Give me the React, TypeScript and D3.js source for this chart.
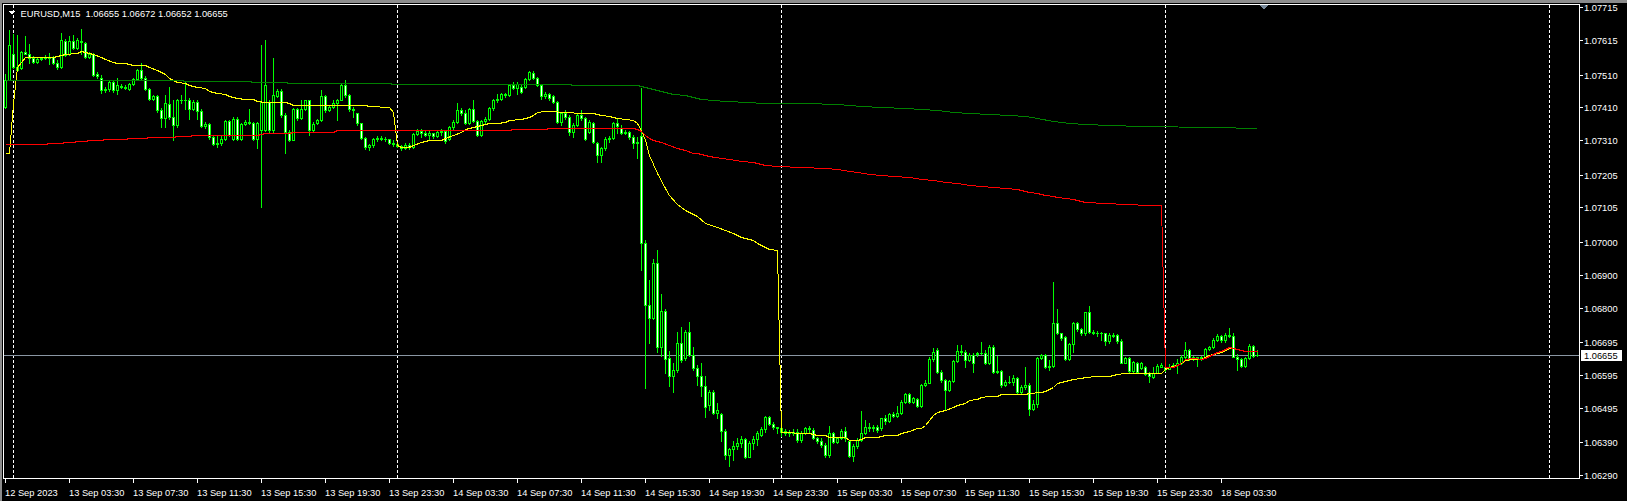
import React from "react";
import * as d3 from "d3";

const W = 1627;
const H = 501;

// ---- OHLC data (EURUSD M15), bar 0 = 12 Sep 23:30 ----
const opens = [
1.07412,1.07493,1.07574,1.07534,1.07529,1.07580,1.07574,1.07559,1.07549,1.07557,
1.07559,1.07559,1.07562,1.07546,1.07532,1.07612,1.07574,1.07612,1.07590,1.07612,
1.07607,1.07564,1.07574,1.07511,1.07501,1.07463,1.07466,1.07486,1.07463,1.07476,
1.07473,1.07466,1.07481,1.07496,1.07524,1.07498,1.07466,1.07437,1.07444,1.07402,
1.07379,1.07420,1.07381,1.07356,1.07432,1.07434,1.07432,1.07406,1.07427,1.07400,
1.07353,1.07358,1.07321,1.07298,1.07300,1.07315,1.07368,1.07315,1.07376,1.07315,
1.07359,1.07366,1.07363,1.07315,1.07341,1.07341,1.07427,1.07341,1.07444,1.07461,
1.07387,1.07336,1.07312,1.07406,1.07379,1.07406,1.07432,1.07341,1.07361,1.07371,
1.07444,1.07402,1.07410,1.07422,1.07434,1.07478,1.07447,1.07404,1.07392,1.07361,
1.07318,1.07288,1.07295,1.07315,1.07318,1.07315,1.07314,1.07302,1.07297,1.07292,
1.07285,1.07295,1.07288,1.07329,1.07339,1.07333,1.07326,1.07331,1.07322,1.07336,
1.07339,1.07315,1.07349,1.07366,1.07402,1.07392,1.07363,1.07404,1.07369,1.07326,
1.07369,1.07376,1.07407,1.07432,1.07437,1.07452,1.07447,1.07478,1.07468,1.07473,
1.07471,1.07495,1.07515,1.07498,1.07478,1.07444,1.07452,1.07444,1.07427,1.07366,
1.07394,1.07381,1.07336,1.07356,1.07386,1.07379,1.07336,1.07363,1.07300,1.07265,
1.07286,1.07315,1.07318,1.07361,1.07346,1.07333,1.07336,1.07320,1.07300,1.07322,
1.06998,1.06808,1.06767,1.06935,1.06679,1.06791,1.06645,1.06590,1.06610,1.06691,
1.06645,1.06725,1.06656,1.06615,1.06590,1.06561,1.06503,1.06544,1.06480,1.06476,
1.06425,1.06351,1.06368,1.06379,1.06387,1.06399,1.06346,1.06387,1.06399,1.06412,
1.06429,1.06466,1.06445,1.06435,1.06432,1.06425,1.06419,1.06422,1.06422,1.06395,
1.06417,1.06432,1.06427,1.06402,1.06394,1.06381,1.06351,1.06417,1.06391,1.06402,
1.06424,1.06392,1.06349,1.06378,1.06396,1.06417,1.06437,1.06432,1.06435,1.06432,
1.06462,1.06455,1.06476,1.06470,1.06478,1.06513,1.06536,1.06513,1.06520,1.06500,
1.06564,1.06571,1.06642,1.06671,1.06605,1.06579,1.06549,1.06576,1.06637,1.06668,
1.06666,1.06641,1.06656,1.06658,1.06661,1.06663,1.06630,1.06681,1.06605,1.06607,
1.06564,1.06574,1.06572,1.06584,1.06544,1.06559,1.06564,1.06490,1.06506,1.06645,
1.06657,1.06618,1.06622,1.06752,1.06722,1.06709,1.06642,1.06689,1.06752,1.06734,
1.06724,1.06785,1.06727,1.06724,1.06722,1.06722,1.06697,1.06717,1.06717,1.06699,
1.06632,1.06645,1.06608,1.06630,1.06615,1.06620,1.06600,1.06588,1.06602,1.06620,
1.06620,1.06614,1.06620,1.06625,1.06632,1.06650,1.06671,1.06642,1.06648,1.06645,
1.06648,1.06673,1.06679,1.06701,1.06714,1.06701,1.06717,1.06714,1.06650,1.06642,
1.06622,1.06645,1.06683,1.06655,
];

const highs = [
1.07513,1.07646,1.07635,1.07630,1.07582,1.07628,1.07603,1.07566,1.07562,1.07564,
1.07569,1.07577,1.07566,1.07554,1.07638,1.07617,1.07628,1.07630,1.07620,1.07649,
1.07610,1.07580,1.07576,1.07519,1.07508,1.07473,1.07493,1.07490,1.07501,1.07480,
1.07477,1.07483,1.07501,1.07526,1.07544,1.07505,1.07470,1.07447,1.07447,1.07407,
1.07447,1.07473,1.07434,1.07437,1.07447,1.07488,1.07440,1.07432,1.07432,1.07404,
1.07366,1.07361,1.07326,1.07326,1.07323,1.07371,1.07373,1.07381,1.07381,1.07363,
1.07371,1.07406,1.07366,1.07366,1.07600,1.07615,1.07432,1.07559,1.07465,1.07465,
1.07392,1.07341,1.07409,1.07409,1.07432,1.07434,1.07434,1.07366,1.07376,1.07463,
1.07447,1.07414,1.07432,1.07437,1.07481,1.07493,1.07450,1.07410,1.07394,1.07363,
1.07321,1.07298,1.07318,1.07323,1.07323,1.07320,1.07315,1.07310,1.07300,1.07296,
1.07300,1.07300,1.07333,1.07343,1.07343,1.07339,1.07341,1.07333,1.07341,1.07343,
1.07341,1.07353,1.07371,1.07424,1.07407,1.07402,1.07407,1.07432,1.07373,1.07371,
1.07381,1.07412,1.07437,1.07452,1.07454,1.07454,1.07481,1.07488,1.07488,1.07478,
1.07498,1.07522,1.07520,1.07503,1.07481,1.07457,1.07454,1.07447,1.07430,1.07397,
1.07402,1.07386,1.07361,1.07392,1.07402,1.07382,1.07371,1.07366,1.07305,1.07290,
1.07320,1.07322,1.07366,1.07376,1.07356,1.07341,1.07338,1.07325,1.07320,1.07468,
1.07006,1.06884,1.06947,1.06976,1.06842,1.06795,1.06669,1.06630,1.06727,1.06740,
1.06732,1.06757,1.06679,1.06625,1.06630,1.06590,1.06549,1.06549,1.06508,1.06480,
1.06429,1.06371,1.06392,1.06402,1.06409,1.06402,1.06392,1.06409,1.06425,1.06437,
1.06470,1.06470,1.06452,1.06437,1.06437,1.06429,1.06427,1.06429,1.06429,1.06425,
1.06437,1.06438,1.06432,1.06407,1.06402,1.06388,1.06438,1.06422,1.06407,1.06429,
1.06437,1.06397,1.06385,1.06402,1.06485,1.06457,1.06447,1.06442,1.06442,1.06465,
1.06473,1.06478,1.06483,1.06500,1.06518,1.06539,1.06539,1.06528,1.06523,1.06567,
1.06579,1.06648,1.06676,1.06676,1.06610,1.06582,1.06579,1.06640,1.06686,1.06686,
1.06671,1.06663,1.06663,1.06666,1.06696,1.06671,1.06686,1.06686,1.06653,1.06610,
1.06579,1.06590,1.06595,1.06588,1.06564,1.06620,1.06569,1.06518,1.06650,1.06660,
1.06660,1.06640,1.06877,1.06796,1.06724,1.06713,1.06693,1.06757,1.06757,1.06737,
1.06788,1.06805,1.06732,1.06730,1.06727,1.06724,1.06722,1.06722,1.06719,1.06703,
1.06650,1.06648,1.06638,1.06635,1.06635,1.06622,1.06605,1.06620,1.06628,1.06630,
1.06622,1.06628,1.06630,1.06642,1.06655,1.06696,1.06673,1.06652,1.06650,1.06652,
1.06676,1.06683,1.06706,1.06719,1.06717,1.06722,1.06737,1.06722,1.06660,1.06645,
1.06650,1.06689,1.06686,1.06672,
];

const lows = [
1.07407,1.07493,1.07529,1.07522,1.07526,1.07572,1.07544,1.07544,1.07544,1.07554,
1.07556,1.07542,1.07541,1.07526,1.07529,1.07566,1.07569,1.07587,1.07587,1.07574,
1.07559,1.07559,1.07505,1.07498,1.07453,1.07458,1.07461,1.07458,1.07451,1.07468,
1.07465,1.07463,1.07478,1.07493,1.07495,1.07463,1.07434,1.07432,1.07397,1.07349,
1.07349,1.07376,1.07310,1.07351,1.07422,1.07404,1.07376,1.07402,1.07376,1.07349,
1.07346,1.07315,1.07295,1.07290,1.07295,1.07312,1.07323,1.07312,1.07312,1.07312,
1.07356,1.07359,1.07310,1.07285,1.07107,1.07339,1.07336,1.07336,1.07442,1.07381,
1.07270,1.07308,1.07310,1.07371,1.07376,1.07402,1.07326,1.07336,1.07359,1.07369,
1.07397,1.07400,1.07408,1.07371,1.07432,1.07442,1.07400,1.07381,1.07356,1.07315,
1.07282,1.07280,1.07290,1.07308,1.07310,1.07308,1.07298,1.07292,1.07288,1.07280,
1.07282,1.07282,1.07286,1.07326,1.07319,1.07322,1.07311,1.07318,1.07320,1.07326,
1.07302,1.07310,1.07343,1.07363,1.07387,1.07359,1.07359,1.07366,1.07322,1.07324,
1.07363,1.07373,1.07402,1.07427,1.07434,1.07442,1.07444,1.07465,1.07452,1.07454,
1.07468,1.07493,1.07495,1.07475,1.07437,1.07440,1.07434,1.07422,1.07361,1.07356,
1.07376,1.07326,1.07320,1.07353,1.07371,1.07310,1.07333,1.07300,1.07245,1.07245,
1.07280,1.07305,1.07315,1.07331,1.07329,1.07329,1.07315,1.07285,1.07255,1.06915,
1.06554,1.06691,1.06764,1.06666,1.06651,1.06602,1.06562,1.06543,1.06605,1.06635,
1.06640,1.06651,1.06610,1.06565,1.06530,1.06468,1.06488,1.06476,1.06463,1.06392,
1.06338,1.06318,1.06336,1.06368,1.06376,1.06341,1.06344,1.06368,1.06382,1.06409,
1.06422,1.06442,1.06429,1.06417,1.06409,1.06412,1.06409,1.06412,1.06389,1.06389,
1.06415,1.06422,1.06399,1.06386,1.06376,1.06346,1.06346,1.06386,1.06388,1.06399,
1.06394,1.06346,1.06331,1.06371,1.06394,1.06415,1.06425,1.06425,1.06422,1.06427,
1.06445,1.06452,1.06466,1.06466,1.06476,1.06510,1.06510,1.06510,1.06496,1.06496,
1.06560,1.06569,1.06638,1.06600,1.06574,1.06488,1.06547,1.06573,1.06634,1.06656,
1.06620,1.06636,1.06605,1.06651,1.06659,1.06628,1.06628,1.06602,1.06600,1.06559,
1.06561,1.06569,1.06565,1.06541,1.06541,1.06553,1.06473,1.06488,1.06498,1.06642,
1.06615,1.06610,1.06618,1.06720,1.06701,1.06640,1.06640,1.06666,1.06730,1.06717,
1.06717,1.06724,1.06720,1.06714,1.06701,1.06686,1.06691,1.06709,1.06691,1.06630,
1.06630,1.06605,1.06602,1.06600,1.06612,1.06595,1.06572,1.06584,1.06600,1.06618,
1.06608,1.06612,1.06618,1.06600,1.06628,1.06645,1.06640,1.06640,1.06622,1.06640,
1.06645,1.06671,1.06676,1.06699,1.06696,1.06696,1.06709,1.06648,1.06610,1.06618,
1.06618,1.06642,1.06648,1.06652,
];

const closes = [
1.07493,1.07600,1.07534,1.07524,1.07580,1.07574,1.07559,1.07549,1.07557,1.07559,
1.07560,1.07562,1.07546,1.07532,1.07615,1.07569,1.07612,1.07590,1.07615,1.07608,
1.07562,1.07574,1.07508,1.07505,1.07463,1.07466,1.07486,1.07463,1.07478,1.07473,
1.07470,1.07480,1.07496,1.07524,1.07498,1.07466,1.07437,1.07444,1.07402,1.07379,
1.07422,1.07381,1.07356,1.07432,1.07434,1.07432,1.07406,1.07427,1.07400,1.07353,
1.07358,1.07321,1.07298,1.07300,1.07315,1.07368,1.07326,1.07376,1.07315,1.07359,
1.07366,1.07363,1.07315,1.07361,1.07427,1.07478,1.07341,1.07447,1.07461,1.07387,
1.07336,1.07312,1.07406,1.07379,1.07406,1.07432,1.07341,1.07359,1.07371,1.07444,
1.07402,1.07410,1.07422,1.07434,1.07478,1.07447,1.07404,1.07402,1.07361,1.07318,
1.07288,1.07295,1.07315,1.07318,1.07315,1.07314,1.07302,1.07297,1.07292,1.07285,
1.07295,1.07288,1.07329,1.07339,1.07333,1.07326,1.07331,1.07322,1.07336,1.07339,
1.07308,1.07349,1.07366,1.07402,1.07392,1.07363,1.07404,1.07369,1.07326,1.07369,
1.07376,1.07407,1.07432,1.07437,1.07452,1.07447,1.07478,1.07468,1.07481,1.07458,
1.07495,1.07519,1.07498,1.07478,1.07444,1.07452,1.07440,1.07427,1.07366,1.07394,
1.07381,1.07336,1.07356,1.07386,1.07379,1.07315,1.07366,1.07305,1.07265,1.07286,
1.07315,1.07318,1.07361,1.07353,1.07333,1.07336,1.07320,1.07300,1.07305,1.06998,
1.06808,1.06767,1.06935,1.06679,1.06791,1.06642,1.06590,1.06610,1.06691,1.06640,
1.06725,1.06656,1.06615,1.06590,1.06561,1.06498,1.06544,1.06480,1.06488,1.06425,
1.06351,1.06368,1.06379,1.06387,1.06399,1.06346,1.06387,1.06399,1.06417,1.06429,
1.06466,1.06445,1.06435,1.06434,1.06422,1.06419,1.06422,1.06417,1.06395,1.06417,
1.06432,1.06431,1.06402,1.06394,1.06381,1.06351,1.06417,1.06391,1.06402,1.06424,
1.06402,1.06349,1.06378,1.06396,1.06417,1.06437,1.06432,1.06435,1.06427,1.06462,
1.06455,1.06476,1.06470,1.06478,1.06513,1.06536,1.06513,1.06523,1.06500,1.06564,
1.06571,1.06642,1.06666,1.06605,1.06579,1.06549,1.06576,1.06637,1.06668,1.06666,
1.06641,1.06656,1.06630,1.06661,1.06663,1.06630,1.06681,1.06605,1.06607,1.06564,
1.06574,1.06573,1.06584,1.06544,1.06559,1.06564,1.06490,1.06506,1.06645,1.06657,
1.06618,1.06622,1.06752,1.06722,1.06706,1.06642,1.06689,1.06752,1.06734,1.06724,
1.06785,1.06727,1.06724,1.06722,1.06724,1.06697,1.06717,1.06714,1.06697,1.06632,
1.06645,1.06608,1.06635,1.06605,1.06630,1.06598,1.06590,1.06602,1.06622,1.06625,
1.06614,1.06620,1.06625,1.06630,1.06650,1.06671,1.06642,1.06648,1.06645,1.06648,
1.06673,1.06679,1.06701,1.06714,1.06701,1.06717,1.06714,1.06650,1.06642,1.06622,
1.06645,1.06683,1.06652,1.06655,
];

// ---- indicator lines: [bar index, price] ----
const maYellow: [number, number][] = [
[0,1.07270],[1,1.07270],[2,1.07422],[3,1.07534],[4,1.07549],[5,1.07562],[6,1.07562],[7,1.07564],[12,1.07564],
[14,1.07569],[15,1.07574],[18,1.07577],[19,1.07582],[21,1.07577],[22,1.07574],[24,1.07564],[25,1.07556],
[27,1.07549],[28,1.07544],[30,1.07544],[32,1.07539],[35,1.07539],[36,1.07534],[38,1.07524],[40,1.07513],
[41,1.07498],[43,1.07488],[45,1.07483],[46,1.07478],[48,1.07473],[50,1.07468],[51,1.07461],[53,1.07455],
[55,1.07451],[56,1.07444],[58,1.07439],[60,1.07435],[62,1.07435],[63,1.07430],[65,1.07427],[70,1.07427],
[71,1.07422],[72,1.07417],[90,1.07417],[91,1.07414],[96,1.07412],[97,1.07397],[98,1.07295],
[99,1.07288],[101,1.07288],[102,1.07295],[104,1.07305],[106,1.07312],[109,1.07312],[110,1.07318],
[112,1.07325],[114,1.07336],[115,1.07343],[117,1.07351],[119,1.07356],[121,1.07361],[123,1.07363],
[125,1.07366],[126,1.07371],[129,1.07375],[131,1.07381],[132,1.07388],[133,1.07395],[135,1.07400],
[141,1.07397],[143,1.07394],[147,1.07394],[149,1.07388],[151,1.07384],[153,1.07379],[155,1.07376],
[157,1.07373],[158,1.07361],[159,1.07341],[160,1.07310],[161,1.07265],[163,1.07209],[165,1.07163],
[166,1.07143],[168,1.07117],[170,1.07097],[173,1.07079],[175,1.07057],[178,1.07047],[180,1.07037],
[182,1.07026],[184,1.07016],[187,1.07006],[188,1.06996],[190,1.06984],[191,1.06979],[193,1.06976],
[194,1.06422],[196,1.06422],[198,1.06419],[201,1.06419],[203,1.06412],[205,1.06412],[206,1.06405],
[210,1.06405],[211,1.06398],[213,1.06398],[214,1.06401],[215,1.06405],[218,1.06405],[219,1.06409],
[220,1.06412],[223,1.06412],[224,1.06417],[226,1.06425],[228,1.06432],[229,1.06432],[230,1.06442],
[231,1.06457],[232,1.06473],[233,1.06483],[235,1.06488],[237,1.06498],[238,1.06503],[240,1.06508],
[241,1.06518],[243,1.06521],[244,1.06526],[246,1.06530],[248,1.06530],[249,1.06536],[255,1.06536],
[256,1.06539],[259,1.06542],[260,1.06547],[261,1.06551],[262,1.06559],[263,1.06571],[265,1.06576],
[266,1.06579],[267,1.06582],[269,1.06584],[270,1.06589],[273,1.06591],[274,1.06590],[276,1.06593],
[278,1.06597],[280,1.06600],[289,1.06600],[290,1.06612],[291,1.06618],[293,1.06624],[294,1.06630],
[295,1.06640],[297,1.06643],[299,1.06644],[300,1.06648],[301,1.06655],[303,1.06663],[304,1.06666],
[305,1.06671],[306,1.06677],[307,1.06676],[308,1.06673],[310,1.06669],[313,1.06668],
];

const maRed: [number, number][] = [
[0,1.07297],[10,1.07297],[11,1.07300],[14,1.07300],[15,1.07303],[17,1.07303],[18,1.07307],[20,1.07307],
[21,1.07310],[24,1.07310],[25,1.07313],[30,1.07313],[31,1.07316],[35,1.07316],[36,1.07319],[42,1.07319],
[43,1.07323],[46,1.07323],[47,1.07325],[63,1.07325],[64,1.07329],[65,1.07331],[71,1.07331],[72,1.07335],
[82,1.07335],[83,1.07341],[126,1.07341],[127,1.07343],[135,1.07343],[136,1.07346],[157,1.07346],
[158,1.07343],[159,1.07338],[160,1.07325],[161,1.07318],[162,1.07312],[164,1.07305],[166,1.07295],
[168,1.07285],[170,1.07280],[172,1.07272],[173,1.07270],[174,1.07268],[176,1.07262],[179,1.07255],
[181,1.07252],[184,1.07248],[187,1.07244],[190,1.07233],[193,1.07230],[199,1.07227],[205,1.07224],
[208,1.07221],[211,1.07215],[213,1.07212],[216,1.07206],[219,1.07203],[222,1.07200],[226,1.07197],
[229,1.07191],[232,1.07188],[235,1.07182],[238,1.07179],[241,1.07172],[244,1.07169],[247,1.07166],
[250,1.07163],[253,1.07160],[256,1.07153],[258,1.07148],[260,1.07144],[262,1.07140],[263,1.07136],
[265,1.07133],[267,1.07130],[270,1.07122],[275,1.07119],[280,1.07115],[286,1.07112],[289,1.07112],
[290,1.06620],[292,1.06620],[293,1.06624],[294,1.06630],[295,1.06644],[297,1.06646],[299,1.06643],
[300,1.06647],[301,1.06653],[302,1.06660],[303,1.06664],[304,1.06668],[305,1.06673],[306,1.06679],
[307,1.06677],[308,1.06673],[309,1.06671],[310,1.06669],[313,1.06668],
];

const maGreen: [number, number][] = [
[0,1.07493],[44,1.07493],[45,1.07490],[61,1.07490],[62,1.07486],[70,1.07486],[71,1.07484],[96,1.07484],
[97,1.07481],[98,1.07481],[99,1.07480],[141,1.07480],[142,1.07478],[158,1.07478],[160,1.07473],
[162,1.07465],[165,1.07458],[167,1.07450],[170,1.07447],[172,1.07442],[173,1.07440],[174,1.07437],
[180,1.07430],[186,1.07425],[189,1.07422],[200,1.07422],[208,1.07419],[214,1.07413],[219,1.07410],
[225,1.07407],[229,1.07404],[233,1.07401],[237,1.07395],[241,1.07392],[246,1.07389],[251,1.07386],
[255,1.07383],[258,1.07377],[262,1.07370],[266,1.07363],[270,1.07358],[276,1.07355],[284,1.07352],
[302,1.07349],[313,1.07348],
];

// ---- axes ----
const priceTicks = [
"1.07715","1.07615","1.07510","1.07410","1.07310","1.07205","1.07105","1.07000",
"1.06900","1.06800","1.06695","1.06595","1.06495","1.06390","1.06290",
];
const timeLabels = [
"12 Sep 2023","13 Sep 03:30","13 Sep 07:30","13 Sep 11:30","13 Sep 15:30","13 Sep 19:30",
"13 Sep 23:30","14 Sep 03:30","14 Sep 07:30","14 Sep 11:30","14 Sep 15:30","14 Sep 19:30",
"14 Sep 23:30","15 Sep 03:30","15 Sep 07:30","15 Sep 11:30","15 Sep 15:30","15 Sep 19:30",
"15 Sep 23:30","18 Sep 03:30",
];
const barsPerLabel = 16;
const daySeparatorBars = [2, 98, 194, 290, 386];
const symbolTitle = "EURUSD,M15  1.06655 1.06672 1.06652 1.06655";
const bidPrice = 1.06655;
const bidLabel = "1.06655";
const chartShiftBar = 314;

const FONT = "'Liberation Sans', Arial, sans-serif";

export default function App() {
  React.useEffect(() => {
    document.body.style.margin = "0";
    document.body.style.background = "#000";
  }, []);

  const left = 3, top = 4, right = 1579, bottom = 478;
  const x = d3.scaleLinear().domain([0, 386]).range([5, 1549]);
  const y = d3.scaleLinear().domain([1.062807, 1.07725]).range([bottom, top]);
  const px = (i: number) => Math.round(x(i));
  const py = (p: number) => Math.round(y(p));

  const line = d3
    .line<[number, number]>()
    .x((d) => px(d[0]) + 0.5)
    .y((d) => py(d[1]) + 0.5);

  const n = Math.min(opens.length, highs.length, lows.length, closes.length);
  const candles = [];
  for (let i = 0; i < n; i++) {
    const o = opens[i], h = highs[i], l = lows[i], c = closes[i];
    const cx = px(i);
    const yt = py(Math.max(o, c));
    const yb = py(Math.min(o, c));
    const yh = py(Math.max(h, o, c));
    const yl = py(Math.min(l, o, c));
    const fill = c > o ? "#000000" : "#ffffff";
    candles.push(
      <g key={i}>
        <line x1={cx + 0.5} x2={cx + 0.5} y1={yh} y2={yl + 1} stroke="#00ff00" strokeWidth={1} />
        {yb - yt < 1 ? (
          <line x1={cx - 1} x2={cx + 2} y1={yt + 0.5} y2={yt + 0.5} stroke="#00ff00" strokeWidth={1} />
        ) : (
          <rect x={cx - 0.5} y={yt + 0.5} width={2} height={yb - yt} fill={fill} stroke="#00ff00" strokeWidth={1} />
        )}
      </g>
    );
  }

  const bidY = py(bidPrice);
  const shiftX = px(chartShiftBar) + 3;

  return (
    <svg
      width={W}
      height={H}
      viewBox={`0 0 ${W} ${H}`}
      style={{ display: "block", position: "absolute", left: 0, top: 0, background: "#000" }}
      shapeRendering="crispEdges"
    >
      <rect x={0} y={0} width={W} height={H} fill="#000" />
      {/* window frame */}
      <rect x={0} y={0} width={W} height={3} fill="#8c8c8c" />
      <rect x={0} y={0} width={2} height={H} fill="#8c8c8c" />

      {/* day separators */}
      {daySeparatorBars.map((b) => (
        <line key={b} x1={px(b) + 0.5} x2={px(b) + 0.5} y1={top + 1} y2={bottom} stroke="#ffffff" strokeWidth={1} strokeDasharray="3,2" />
      ))}

      {/* bid line */}
      <line x1={left} x2={right} y1={bidY + 0.5} y2={bidY + 0.5} stroke="#8a96a3" strokeWidth={1} />

      {/* candles */}
      {candles}

      {/* indicators */}
      <path d={line(maYellow) || ""} fill="none" stroke="#ffff00" strokeWidth={1} />
      <path d={line(maGreen) || ""} fill="none" stroke="#008000" strokeWidth={1} />
      <path d={line(maRed) || ""} fill="none" stroke="#ff0000" strokeWidth={1} />

      {/* chart border */}
      <rect x={left + 0.5} y={top + 0.5} width={right - left} height={bottom - top} fill="none" stroke="#ffffff" strokeWidth={1} />

      {/* chart shift marker */}
      <polygon points={`${shiftX - 4.5},${top + 1} ${shiftX + 4.5},${top + 1} ${shiftX},${top + 6}`} fill="#778899" />

      {/* title */}
      <polygon points="9,11 15,11 12,14.5" fill="#ffffff" />
      <text x={20.5} y={16.5} fill="#ffffff" fontFamily={FONT} fontSize={9.3} style={{ whiteSpace: "pre" }}>
        {symbolTitle}
      </text>

      {/* price axis */}
      {priceTicks.map((t) => {
        const ty = py(parseFloat(t));
        return (
          <g key={t}>
            <line x1={right} x2={right + 4} y1={ty + 0.5} y2={ty + 0.5} stroke="#ffffff" strokeWidth={1} />
            <text x={right + 5} y={ty + 3.5} fill="#ffffff" fontFamily={FONT} fontSize={9.3}>
              {t}
            </text>
          </g>
        );
      })}
      <rect x={right + 2} y={bidY - 5} width={41} height={11} fill="#ffffff" />
      <text x={right + 5} y={bidY + 3.5} fill="#000000" fontFamily={FONT} fontSize={9.3}>
        {bidLabel}
      </text>

      {/* time axis */}
      {timeLabels.map((t, k) => {
        const tx = px(k * barsPerLabel);
        return (
          <g key={t}>
            <line x1={tx + 0.5} x2={tx + 0.5} y1={bottom} y2={bottom + 5} stroke="#ffffff" strokeWidth={1} />
            <text x={tx} y={bottom + 18} fill="#ffffff" fontFamily={FONT} fontSize={9.3}>
              {t}
            </text>
          </g>
        );
      })}
    </svg>
  );
}
